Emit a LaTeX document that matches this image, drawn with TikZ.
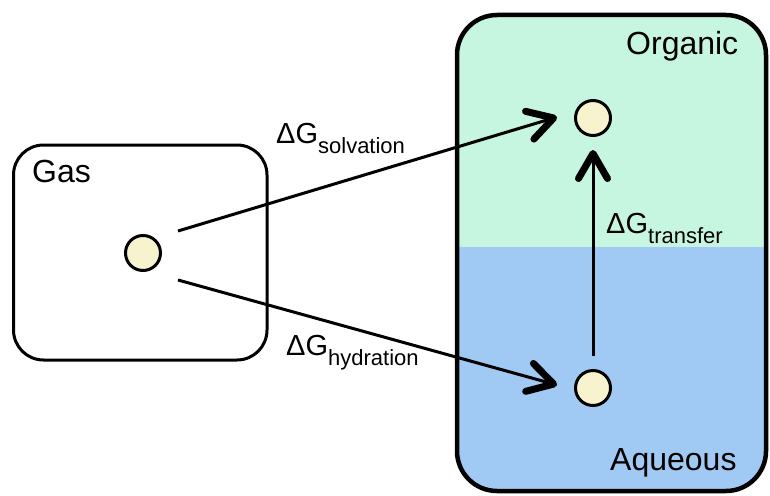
\documentclass[tikz,border=0pt]{standalone}
\usepackage{fontspec}
\setmainfont{Liberation Sans}
\usetikzlibrary{arrows.meta}
\definecolor{orggreen}{RGB}{198,246,224}
\definecolor{aqblue}{RGB}{160,202,243}
\definecolor{cream}{RGB}{247,243,207}
\tikzset{
  molecule/.style={circle, draw=black, line width=3pt, fill=cream, minimum size=35pt, inner sep=0pt},
  biglabel/.style={anchor=base west, inner sep=0pt, font=\fontsize{32}{32}\selectfont},
  dglabel/.style={anchor=base west, inner sep=0pt, font=\fontsize{29}{29}\selectfont},
  conn/.style={line width=3pt, -{Straight Barb[length=25pt, width=29pt, line width=7pt, round]}},
  phasebox/.style={draw=black, rounded corners=40pt, line width=4.5pt},
  gasbox/.style={draw=black, rounded corners=30pt, line width=3pt}
}
\newcommand{\dg}[1]{ΔG\raisebox{-10pt}{\fontsize{22}{22}\selectfont #1}}
\begin{document}
\begin{tikzpicture}[x=1pt, y=-1pt]
\useasboundingbox (0,0) rectangle (770,495);
% phase box fill
\begin{scope}
  \clip[rounded corners=40pt] (457,15) rectangle (766,491);
  \fill[orggreen] (440,0) rectangle (780,247);
  \fill[aqblue] (440,247) rectangle (780,500);
\end{scope}
\draw[phasebox] (457,15) rectangle (766,491);
% gas box
\draw[gasbox] (13.5,145) rectangle (267,360);
% labels
\node[biglabel] (gaslbl) at (32,182) {Gas};
\node[biglabel] (orglbl) at (626,55) {Organic};
\node[biglabel] (aqlbl) at (610,470) {Aqueous};
% molecules
\node[molecule] (gas) at (143,253) {};
\node[molecule] (org) at (593,118) {};
\node[molecule] (aq) at (593,388) {};
% connector end points
\coordinate (s1) at (178,231);
\coordinate (t1) at (557,117);
\coordinate (s2) at (178,280);
\coordinate (t2) at (557,385);
\coordinate (s3) at (593,356);
\coordinate (t3) at (593,150);
\draw[conn] (s1) -- (t1);
\draw[conn] (s2) -- (t2);
\draw[conn] (s3) -- (t3);
% free energy labels
\node[dglabel] (lsolv) at (276,143) {\dg{solvation}};
\node[dglabel] (lhyd) at (286,355) {\dg{hydration}};
\node[dglabel] (ltr) at (606,233) {\dg{transfer}};
\end{tikzpicture}
\end{document}
